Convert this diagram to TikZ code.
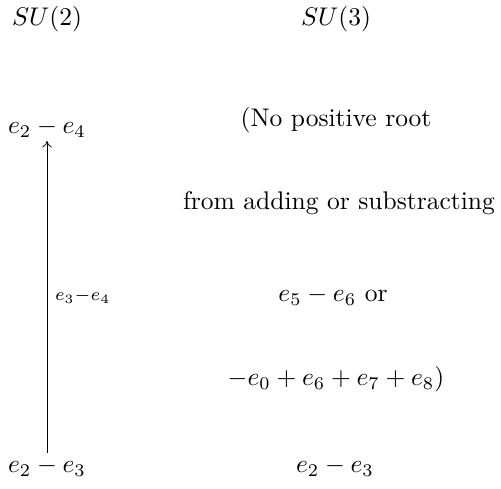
\documentclass[tikz,border=0pt]{standalone}
\usepackage{amsmath,amssymb}
\usetikzlibrary{arrows.meta}
\tikzset{
  root/.style={inner sep=0pt, anchor=base},
  lbl/.style={inner sep=0pt, anchor=west, font=\scriptsize},
  up/.style={-{To[length=0.9mm,width=1.3mm]}, line width=0.3pt},
}

\begin{document}
\begin{tikzpicture}[x=0.392pt, y=-0.392pt]
  \useasboundingbox (0,0) rectangle (501,489);
  \node[root] (su2) at (47,26) {$SU(2)$}; \node[root] (su3) at (336,26) {$SU(3)$};
  \node[root] (a4) at (47,134) {$e_2-e_4$};
  \node[root] (a3) at (47,473) {$e_2-e_3$};
  \node[root] (r1) at (336,127) {(No positive root};
  \node[root] (r2) at (339,210) {from adding or substracting};
  \node[root] (r3) at (333,302) {$e_5-e_6$ or};
  \node[root] (r4) at (336,386) {$-e_0+e_6+e_7+e_8)$};
  \node[root] (b3) at (335,473) {$e_2-e_3$};
  \draw[up] ([yshift=2pt]a3.north) -- ([yshift=-1pt]a4.south) node[lbl, midway, right=3pt] {$e_3{-}e_4$};
\end{tikzpicture}
\end{document}
